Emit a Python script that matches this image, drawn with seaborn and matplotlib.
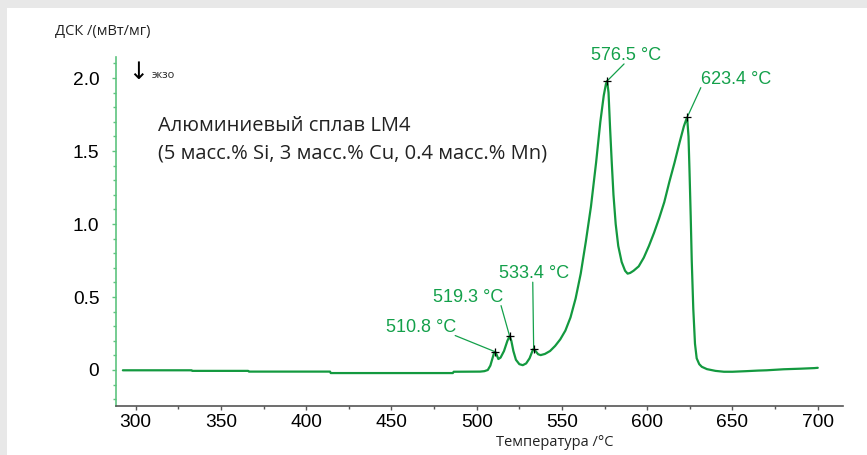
import numpy as np
import pandas as pd
import matplotlib
matplotlib.use("Agg")
import matplotlib.pyplot as plt
from matplotlib.patches import Rectangle
from matplotlib.ticker import MultipleLocator, FuncFormatter
import seaborn as sns

# ---------------- data ----------------
temperature = [292.5, 332.8, 333.2, 366.0, 366.4, 414.0, 414.4, 486.0, 486.5, 502.0,
               504.5, 506.5, 508.0, 509.0, 510.0, 510.8, 511.5, 512.7, 514.0, 516.0,
               518.0, 519.3, 520.3, 521.5, 523.0, 525.0, 527.0, 529.0, 531.0, 532.5,
               533.4, 534.5, 536.0, 537.5, 540.0, 543.0, 546.0, 549.0, 552.0, 555.0,
               558.0, 561.0, 564.0, 567.0, 570.0, 572.5, 574.5, 575.8, 576.5, 577.3,
               578.2, 579.2, 580.2, 581.5, 583.0, 585.0, 587.0, 588.5, 590.0, 592.0,
               595.0, 598.0, 601.0, 604.0, 607.0, 610.0, 613.0, 616.0, 619.0, 621.5,
               623.0, 623.4, 624.2, 624.8, 625.5, 626.1, 627.0, 628.0, 629.0, 630.5,
               632.0, 635.0, 640.0, 645.0, 650.0, 658.0, 665.0, 670.0, 680.0, 690.0,
               698.0, 700.0]
dsc = [-0.002, -0.002, -0.006, -0.006, -0.011, -0.011, -0.021, -0.021, -0.012, -0.011,
       -0.008, 0.000, 0.030, 0.070, 0.110, 0.125, 0.110, 0.075, 0.085, 0.130,
       0.200, 0.232, 0.200, 0.130, 0.070, 0.040, 0.033, 0.045, 0.080, 0.125,
       0.146, 0.130, 0.108, 0.102, 0.110, 0.130, 0.165, 0.210, 0.270, 0.360,
       0.490, 0.660, 0.880, 1.120, 1.420, 1.700, 1.880, 1.960, 1.980, 1.900,
       1.660, 1.420, 1.200, 1.000, 0.850, 0.740, 0.680, 0.660, 0.665, 0.680,
       0.710, 0.770, 0.850, 0.940, 1.040, 1.150, 1.290, 1.420, 1.560, 1.670,
       1.720, 1.730, 1.600, 1.360, 1.050, 0.750, 0.420, 0.180, 0.080, 0.040,
       0.022, 0.006, -0.006, -0.012, -0.012, -0.008, -0.004, -0.002, 0.005, 0.009,
       0.013, 0.015]

peak_temps = [510.8, 519.3, 533.4, 576.5, 623.4]
peak_vals = [0.125, 0.232, 0.146, 1.980, 1.730]
peak_labels = ["510.8 °C", "519.3 °C", "533.4 °C", "576.5 °C", "623.4 °C"]

x_ticks = [300, 350, 400, 450, 500, 550, 600, 650, 700]
y_ticks = [0, 0.5, 1.0, 1.5, 2.0]

title_lines = ["Алюминиевый сплав LM4", "(5 масс.% Si, 3 масс.% Cu, 0.4 масс.% Mn)"]
y_label = "ДСК /(мВт/мг)"
x_label = "Температура /°C"
exo_label = "экзо"

# ---------------- style ----------------
sns.set_theme(style="white")
plt.rcParams["font.family"] = ["Liberation Sans", "DejaVu Sans"]

CURVE = "#13993f"
LABEL_GREEN = "#13a04a"
YAXIS_GREEN = "#5ec47f"
XAXIS_GRAY = "#555555"

W, H = 867, 455
fig = plt.figure(figsize=(W / 100, H / 100), dpi=100)
fig.patch.set_facecolor("#e8e8e8")
fig.patches.append(Rectangle((7 / W, 0), 1, (H - 8) / H, transform=fig.transFigure,
                             facecolor="white", edgecolor="none", zorder=-10))

ax_l, ax_r, ax_t, ax_b = 115.7, 843.0, 57.0, 406.0
ax = fig.add_axes([ax_l / W, 1 - ax_b / H, (ax_r - ax_l) / W, (ax_b - ax_t) / H])
ax.set_facecolor("none")
ax.set_zorder(5)

df = pd.DataFrame({"T": temperature, "DSC": dsc})
sns.lineplot(data=df, x="T", y="DSC", sort=False, estimator=None, color=CURVE,
             linewidth=1.6, ax=ax)
sns.scatterplot(x=peak_temps, y=peak_vals, marker="+", color="black", s=28,
                linewidth=0.9, ax=ax, zorder=5)

ax.set_xlim(288.3, 714.8)
ax.set_ylim(-0.2466, 2.144)
ax.set_xticks(x_ticks)
ax.set_yticks(y_ticks)
ax.xaxis.set_minor_locator(MultipleLocator(25))
ax.yaxis.set_minor_locator(MultipleLocator(0.1))
ax.yaxis.set_major_formatter(FuncFormatter(lambda v, p: "0" if abs(v) < 1e-9 else f"{v:.1f}"))
ax.set_xlabel("")
ax.set_ylabel("")

for s in ("top", "right"):
    ax.spines[s].set_visible(False)
ax.spines["left"].set_color(YAXIS_GREEN)
ax.spines["left"].set_linewidth(1.2)
ax.spines["bottom"].set_color(XAXIS_GRAY)
ax.spines["bottom"].set_linewidth(1.2)

ax.tick_params(axis="y", which="major", direction="out", length=3, width=1,
               color=YAXIS_GREEN, labelsize=13.8, labelcolor="black", pad=8.8, left=True)
ax.tick_params(axis="y", which="minor", direction="out", length=2.5, width=1,
               color=YAXIS_GREEN, left=True)
ax.tick_params(axis="x", which="major", direction="out", length=3, width=1,
               color=XAXIS_GRAY, labelsize=13.8, labelcolor="black", pad=3, bottom=True)
ax.tick_params(axis="x", which="minor", direction="out", length=2, width=1,
               color=XAXIS_GRAY, bottom=True)

# peak annotations: (dx, dy) in pixels, relpos anchor of leader line on text box
ann_layout = [(-74, 24.7, (0.985, 0.0)),
              (-41.6, 39.0, (0.97, 0.0)),
              (0.5, 75.0, (0.48, 0.0)),
              (19.0, 25.5, (0.47, 0.0)),
              (48.8, 38.3, (0.0, 0.0))]
for t, v, lab, (dx, dy, rp) in zip(peak_temps, peak_vals, peak_labels, ann_layout):
    ax.annotate(lab, xy=(t, v), xytext=(dx * 0.72, dy * 0.72), textcoords="offset points",
                ha="center", va="center", fontsize=13, color=LABEL_GREEN,
                arrowprops=dict(arrowstyle="-", color=LABEL_GREEN, lw=0.9,
                                shrinkA=0, shrinkB=0, relpos=rp, patchA=None))

def axfrac(px, py):
    return ((px - ax_l) / (ax_r - ax_l), (ax_b - py) / (ax_b - ax_t))

ax.text(*axfrac(138, 72), "↓", fontsize=17, ha="center", va="center", color="black",
        family=["DejaVu Sans"], transform=ax.transAxes)
ax.text(*axfrac(152, 75), exo_label, fontsize=8, ha="left", va="center",
        color="#222222", family=["Open Sans", "DejaVu Sans"], transform=ax.transAxes)
ax.text(*axfrac(158.5, 126), title_lines[0], fontsize=14.5, ha="left", va="center",
        color="#222222", family=["Open Sans", "DejaVu Sans"], transform=ax.transAxes)
ax.text(*axfrac(158.5, 154), title_lines[1], fontsize=14.5, ha="left", va="center",
        color="#222222", family=["Open Sans", "DejaVu Sans"], transform=ax.transAxes)

fig.text(55 / W, 1 - 31 / H, y_label, fontsize=10.5, ha="left", va="center",
         color="#222222", family=["Open Sans", "DejaVu Sans"])
fig.text(555 / W, 1 - 442 / H, x_label, fontsize=10.5, ha="center", va="center",
         color="#222222", family=["Liberation Sans Narrow", "Open Sans", "DejaVu Sans"])

fig.savefig("out.png", dpi=100, facecolor=fig.get_facecolor())
